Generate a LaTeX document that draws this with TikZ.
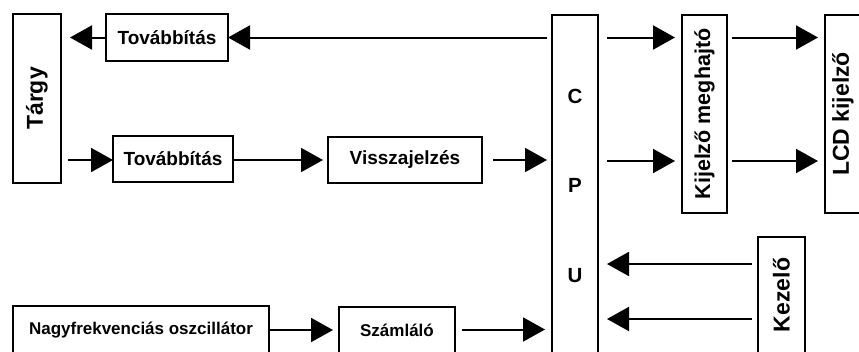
\documentclass[tikz,border=0pt]{standalone}
\usepackage{fontspec}
\setmainfont{Liberation Sans}
\usepackage{graphicx}
\usetikzlibrary{arrows.meta}
\begin{document}
\begin{tikzpicture}[x=1pt,y=-1pt,
  box/.style={draw,line width=2pt,inner sep=0pt,outer sep=0pt,font=\bfseries},
  hbig/.style={font=\bfseries\fontsize{19}{21}\selectfont},
  hsmall/.style={font=\bfseries\fontsize{17}{19}\selectfont},
  arr/.style={line width=2pt,-{Triangle[length=22pt,width=24pt]}},
  ]
\clip (0,0) rectangle (859,351);
\fill[white] (0,0) rectangle (859,351);
% boxes
\node[box,minimum width=48pt,minimum height=169pt] (targy) at (37,98.5)
  {\rotatebox{90}{\fontsize{23}{25}\selectfont Tárgy}};
\node[box,hbig,minimum width=122pt,minimum height=47pt] (t1) at (167,37.5) {Továbbítás};
\node[box,hbig,minimum width=120pt,minimum height=46pt] (t2) at (173,159) {Továbbítás};
\node[box,hbig,minimum width=154pt,minimum height=46pt] (v) at (405,160) {Visszajelzés};
\node[box,minimum width=46pt,minimum height=341pt,align=center,
  font=\bfseries\fontsize{20.5}{89.5}\selectfont] (cpu) at (575,185.5) {C\\P\\U};
\node[box,minimum width=45pt,minimum height=198pt] (kd) at (704.5,114)
  {\rotatebox{90}{\fontsize{21.5}{23}\selectfont Kijelző meghajtó}};
\node[box,minimum width=36pt,minimum height=198pt] (lcd) at (843,114)
  {\rotatebox{90}{\fontsize{23}{25}\selectfont LCD kijelző}};
\node[box,minimum width=47pt,minimum height=116pt] (kez) at (781.5,295)
  {\rotatebox{90}{\fontsize{23}{25}\selectfont Kezelő}};
\node[box,hsmall,minimum width=256pt,minimum height=48pt] (osc) at (141,330) {Nagyfrekvenciás oszcillátor};
\node[box,hsmall,minimum width=116pt,minimum height=47pt] (sz) at (397,330.5) {Számláló};
% connectors
\draw[arr,shorten <=5pt] (cpu.west |- t1.east) -- (t1.east);
\draw[arr,shorten >=9pt] (t1.west) -- (t1.west -| targy.east);
\draw[arr,shorten <=7pt] ([yshift=-1pt]targy.east |- t2.west) -- ([yshift=-1pt]t2.west);
\draw[arr,shorten >=5pt] ([yshift=-1pt]t2.east) -- ([yshift=-1pt]t2.east -| v.west);
\draw[arr,shorten <=11pt,shorten >=5pt] (v.east) -- (v.east -| cpu.west);
\draw[arr,shorten <=9pt,shorten >=7pt] (cpu.east |- t1.east) -- (kd.west |- t1.east);
\draw[arr,shorten <=9pt,shorten >=7pt] ([yshift=-1pt]cpu.east |- v.east) -- ([yshift=-1pt]kd.west |- v.east);
\draw[arr,shorten <=5pt,shorten >=7pt] (kd.east |- t1.east) -- (lcd.west |- t1.east);
\draw[arr,shorten <=5pt,shorten >=7pt] ([yshift=-1pt]kd.east |- v.east) -- ([yshift=-1pt]lcd.west |- v.east);
\draw[arr,shorten <=6pt,shorten >=9pt] ([yshift=31pt]kez.west) -- ([yshift=31pt]kez.west -| cpu.east);
\draw[arr,shorten <=6pt,shorten >=9pt] ([yshift=-24pt]kez.west) -- ([yshift=-24pt]kez.west -| cpu.east);
\draw[arr,shorten >=6pt] (osc.east) -- (osc.east -| sz.west);
\draw[arr,shorten <=7pt,shorten >=7pt] ([yshift=1pt]sz.east) -- ([yshift=1pt]sz.east -| cpu.west);
\end{tikzpicture}
\end{document}
